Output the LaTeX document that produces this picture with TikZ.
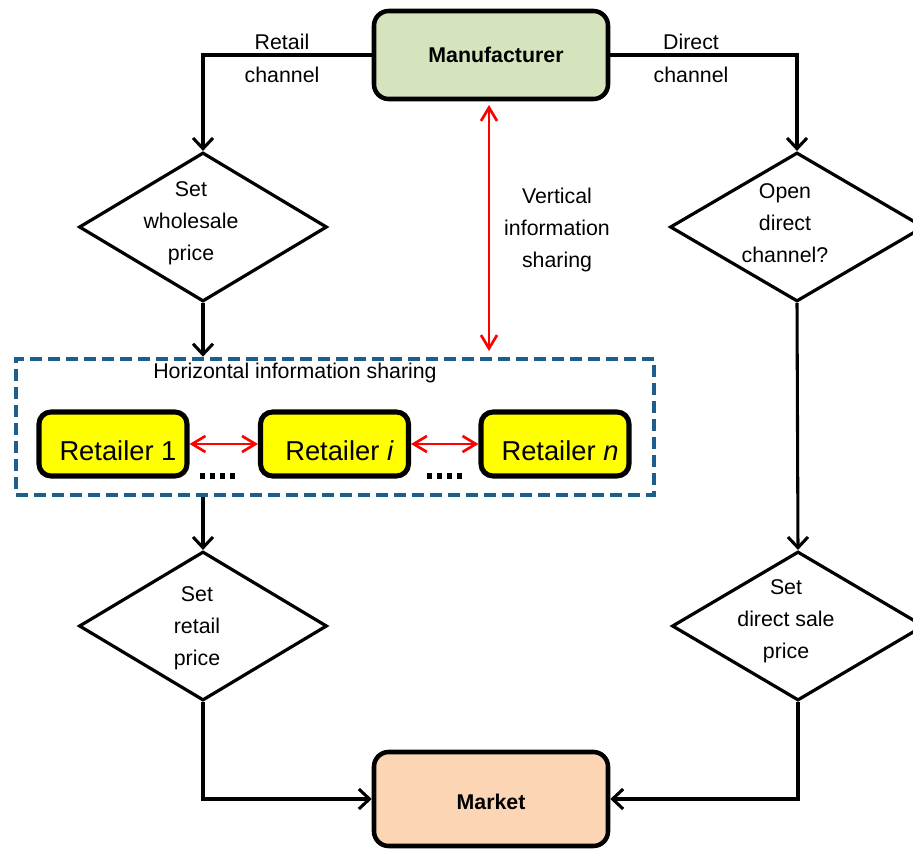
\documentclass[tikz,border=0pt]{standalone}
\usepackage{fontspec}
\setmainfont{Liberation Sans}
\usetikzlibrary{arrows.meta,shapes.geometric}
\definecolor{mgreen}{RGB}{214,228,190}
\definecolor{mpeach}{RGB}{252,213,180}
\definecolor{dashblue}{RGB}{28,94,140}
\definecolor{ryellow}{RGB}{255,255,0}
\begin{document}
\begin{tikzpicture}[x=0.75pt,y=-0.75pt,
  flow/.style={line width=2.3pt, -{Straight Barb[length=8pt,width=15pt,line width=2.3pt]}},
  redarrow/.style={red, line width=2pt, {Straight Barb[length=10pt,width=12pt,line width=2pt]}-{Straight Barb[length=10pt,width=12pt,line width=2pt]}},
  bigbox/.style={draw, line width=3.4pt, rounded corners=11pt, inner sep=0pt, font=\fontsize{16}{19}\selectfont\bfseries},
  retbox/.style={draw, line width=3.8pt, rounded corners=9pt, fill=ryellow, inner sep=0pt,
     minimum width=148*0.75pt, minimum height=64*0.75pt, font=\fontsize{20.5}{24}\selectfont},
  dia/.style={draw, shape=diamond, line width=2.4pt, inner sep=0pt, minimum width=248*0.75pt, minimum height=149*0.75pt},
  dtext/.style={align=center, inner sep=0pt, font=\fontsize{16}{24}\selectfont},
  lbl/.style={inner sep=0pt, font=\fontsize{16}{19}\selectfont},
  dots/.style={line width=3.8pt, dash pattern=on 5*0.75pt off 5*0.75pt}
]
\useasboundingbox (0,0) rectangle (913,849);
\clip (0,0) rectangle (913,849);

% main boxes
\node[bigbox, fill=mgreen, minimum width=234*0.75pt, minimum height=88*0.75pt] (man) at (491,55) {\hspace*{7.5pt}Manufacturer};
\node[bigbox, fill=mpeach, minimum width=234*0.75pt, minimum height=94*0.75pt] (market) at (491,799) {\raisebox{-2pt}[\height][\depth]{Market}};

% diamonds
\node[dia] (d1) at (203,227) {};
\node[dia, minimum width=254*0.75pt] (d2) at (797,227) {};
\node[dia] (d3) at (203,626) {};
\node[dia, minimum width=252*0.75pt] (d4) at (798,626) {};
\node[dtext] (t1) at (191,223) {Set\\wholesale\\price};
\node[dtext] (t2) at (785,223) {Open\\direct\\channel?};
\node[dtext] (t3) at (197,628) {Set\\retail\\price};
\node[dtext] (t4) at (786,621) {Set\\direct sale\\price};

% channel labels
\node[lbl] (rl1) at (282,42) {Retail};
\node[lbl] (rl2) at (282,75) {channel};
\node[lbl] (dl1) at (691,42) {Direct};
\node[lbl] (dl2) at (691,75) {channel};

% vertical sharing label
\node[dtext] (vt) at (557,230) {Vertical\\information\\sharing};

% dashed horizontal sharing box
\node[draw=dashblue, line width=3.5pt, dash pattern=on 12*0.75pt off 6*0.75pt, inner sep=0pt,
      minimum width=638*0.75pt, minimum height=136*0.75pt] (hbox) at (335,427) {};
\begin{scope}
  \clip (140,358) rectangle (436,392);
  \node[lbl, anchor=west] (ht) at (153,373) {Horizontal information sharing};
\end{scope}

% retailers
\node[retbox] (r1) at (113,444) {\raisebox{-5pt}[\height][\depth]{\hspace*{7.5pt}Retailer 1}};
\node[retbox] (ri) at (334.5,444) {\raisebox{-5pt}[\height][\depth]{\hspace*{7.5pt}Retailer \textit{i}}};
\node[retbox] (rn) at (555,444) {\raisebox{-5pt}[\height][\depth]{\hspace*{7.5pt}Retailer \textit{n}}};
\draw[redarrow] (r1.east) -- (ri.west);
\draw[redarrow] (ri.east) -- (rn.west);

% dotted fillers
\coordinate (da1) at (200,476); \coordinate (db1) at (238,476);
\coordinate (da2) at (427,476); \coordinate (db2) at (465,476);
\draw[dots] (da1) -- (db1);
\draw[dots] (da2) -- (db2);

% vertical red arrow
\coordinate (vtop) at (489,105);
\coordinate (vbot) at (489,351);
\draw[redarrow] (vtop) -- (vbot);

% flows
\draw[flow] (man.west) -| (d1.north);
\draw[flow] (man.east) -| (d2.north);
\draw[flow] (d1.south) -- (d1.south |- hbox.north);
\draw[flow] (hbox.south -| d3.north) -- (d3.north);
\draw[flow] (d2.south) -- (d4.north);
\draw[flow] (d3.south) |- (market.west);
\draw[flow] (d4.south) |- (market.east);
\end{tikzpicture}
\end{document}
